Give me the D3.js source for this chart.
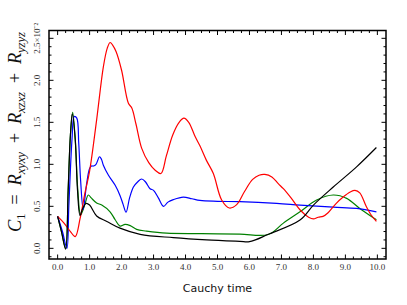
<!DOCTYPE html>
<html><head><meta charset="utf-8">
<script src="https://cdn.jsdelivr.net/npm/d3@7"></script>
<style>body{margin:0;background:#fff;} svg{display:block;}</style>
</head><body><svg id="c" width="407" height="305"></svg>
<script>
// ---- data (values in units of 1e-2) ----
const xTickLabels = ["0.0","1.0","2.0","3.0","4.0","5.0","6.0","7.0","8.0","9.0","10.0"];
const yTickLabels = ["0.0","0.5","1.0","1.5","2.0","2.5×10⁻²"];
const xTicks = [0,1,2,3,4,5,6,7,8,9,10];
const yTicks = [0,0.5,1,1.5,2,2.5];

const redT = [0,0.2,0.4,0.55,0.7,0.85,1.0,1.22,1.43,1.55,1.64,1.72,1.83,2.0,2.21,2.32,2.45,2.63,2.85,3.05,3.23,3.4,3.6,3.8,3.95,4.1,4.3,4.45,4.65,4.87,5.13,5.37,5.6,5.85,6.1,6.3,6.48,6.7,6.9,7.06,7.3,7.6,7.85,8.0,8.15,8.3,8.45,8.7,8.93,9.15,9.3,9.45,9.65,9.8,9.97];
const redV = [0.38,0.3,0.2,0.14,0.35,0.65,0.92,1.53,2.16,2.38,2.45,2.42,2.34,2.12,1.73,1.67,1.48,1.19,1.02,0.93,0.89,1.1,1.35,1.5,1.55,1.5,1.33,1.22,1.05,0.89,0.575,0.48,0.52,0.68,0.82,0.87,0.88,0.85,0.77,0.71,0.6,0.45,0.37,0.35,0.37,0.38,0.42,0.53,0.61,0.67,0.69,0.66,0.5,0.4,0.32];

const blueT = [0,0.15,0.29,0.35,0.45,0.52,0.6,0.66,0.72,0.8,0.9,1.0,1.06,1.12,1.2,1.31,1.37,1.43,1.59,1.8,1.95,2.05,2.14,2.25,2.37,2.5,2.63,2.75,2.89,3.0,3.15,3.31,3.45,3.62,3.93,4.2,4.45,5.0,5.7,6.85,7.58,8.62,9.35,9.97];
const blueV = [0.38,0.2,0.0,0.5,1.3,1.57,1.55,1.25,0.8,0.46,0.75,0.95,0.98,0.98,1.0,1.09,1.06,0.99,0.87,0.75,0.63,0.52,0.43,0.6,0.73,0.79,0.825,0.79,0.71,0.69,0.6,0.5,0.55,0.58,0.61,0.59,0.57,0.56,0.555,0.535,0.515,0.49,0.475,0.435];

const greenT = [0,0.12,0.25,0.33,0.4,0.47,0.55,0.63,0.72,0.85,0.96,1.05,1.22,1.38,1.64,1.8,1.95,2.11,2.27,2.47,2.78,3.41,4.5,5.7,6.59,7.06,7.58,8.1,8.62,9.04,9.45,9.97];
const greenV = [0.38,0.2,0.0,0.7,1.35,1.62,1.3,0.7,0.4,0.52,0.635,0.6,0.54,0.515,0.435,0.34,0.265,0.285,0.27,0.225,0.205,0.18,0.175,0.17,0.165,0.3,0.435,0.575,0.635,0.595,0.475,0.34];

const blackT = [0,0.12,0.25,0.33,0.4,0.46,0.55,0.62,0.7,0.78,0.89,1.0,1.22,1.54,1.95,2.58,3.62,4.66,5.7,6.0,6.59,7.58,8.0,8.62,9.35,9.97];
const blackV = [0.38,0.2,-0.01,0.7,1.35,1.6,1.3,0.7,0.39,0.47,0.535,0.515,0.385,0.32,0.24,0.167,0.127,0.1,0.083,0.079,0.167,0.337,0.515,0.73,0.97,1.2];

const series = [
  {t: greenT, v: greenV, color: "#008000"},
  {t: blueT, v: blueV, color: "#0000ff"},
  {t: redT, v: redV, color: "#ff0000"},
  {t: blackT, v: blackV, color: "#000000"}
];

// ---- layout ----
const svg = d3.select("#c");
const L = 49, R = 386, T = 30.5, B = 259;
const x = d3.scaleLinear().domain([-0.27, 10.27]).range([L, R]);
const y = d3.scaleLinear().domain([-0.127, 2.593]).range([B, T]);

const line = d3.line().x(d => x(d[0])).y(d => y(d[1])).curve(d3.curveCatmullRom.alpha(0.5));
svg.append("clipPath").attr("id","clp").append("rect").attr("x",L).attr("y",T).attr("width",R-L).attr("height",B-T);
const g = svg.append("g").attr("clip-path","url(#clp)");
series.forEach(s => {
  g.append("path").datum(s.t.map((t,i)=>[t, s.v[i]]))
    .attr("d", line).attr("fill","none").attr("stroke", s.color).attr("stroke-width",1.2);
});

// ticks (inward on all sides)
const xMinor = d3.range(0, 10.01, 0.25).filter(v => Math.abs(v - Math.round(v)) > 1e-6);
const yMinor = d3.range(-0.1, 2.59, 0.1).filter(v => Math.abs(v*2 - Math.round(v*2)) > 1e-6);
const tk = svg.append("g").attr("stroke","#000").attr("stroke-width",1);
xTicks.forEach(v => {
  tk.append("line").attr("x1",x(v)).attr("x2",x(v)).attr("y1",B).attr("y2",B-4.5);
  tk.append("line").attr("x1",x(v)).attr("x2",x(v)).attr("y1",T).attr("y2",T+4.5);
});
xMinor.forEach(v => {
  tk.append("line").attr("x1",x(v)).attr("x2",x(v)).attr("y1",B).attr("y2",B-2.5);
  tk.append("line").attr("x1",x(v)).attr("x2",x(v)).attr("y1",T).attr("y2",T+2.5);
});
yTicks.forEach(v => {
  tk.append("line").attr("y1",y(v)).attr("y2",y(v)).attr("x1",L).attr("x2",L+4.5);
  tk.append("line").attr("y1",y(v)).attr("y2",y(v)).attr("x1",R).attr("x2",R-4.5);
});
yMinor.forEach(v => {
  tk.append("line").attr("y1",y(v)).attr("y2",y(v)).attr("x1",L).attr("x2",L+2.5);
  tk.append("line").attr("y1",y(v)).attr("y2",y(v)).attr("x1",R).attr("x2",R-2.5);
});

// frame
svg.append("rect").attr("x",L).attr("y",T).attr("width",R-L).attr("height",B-T)
  .attr("fill","none").attr("stroke","#000").attr("stroke-width",1.5);

// tick labels
const tf = "'Liberation Serif', serif";
xTicks.forEach((v,i) => {
  svg.append("text").attr("x",x(v)).attr("y",B+11).attr("text-anchor","middle")
    .attr("font-family",tf).attr("font-size",9).attr("fill","#333").text(xTickLabels[i]);
});
yTicks.forEach((v,i) => {
  svg.append("text").attr("transform",`translate(${L-9},${y(v)}) rotate(-90)`)
    .attr("text-anchor","middle").attr("font-family",tf).attr("font-size",9).attr("fill","#333")
    .text(yTickLabels[i]);
});

// axis labels
svg.append("text").attr("x",(L+R)/2).attr("y",292).attr("text-anchor","middle")
  .attr("font-family","'DejaVu Sans', sans-serif").attr("font-size",11).attr("fill","#111").text("Cauchy time");

const yl = svg.append("text").attr("transform",`translate(21,132) rotate(-90)`)
  .attr("text-anchor","middle").attr("font-family","'Liberation Serif', serif").attr("font-size",18.5)
  .attr("fill","#111").attr("textLength",200).attr("lengthAdjust","spacing");
const parts = [["C","1"],["\u2002=\u2002",null],["R","xyxy"],["\u2002+\u2002",null],["R","xzxz"],["\u2002+\u2002",null],["R","yzyz"]];
parts.forEach(p => {
  if (p[1] === null) { yl.append("tspan").attr("font-style","normal").text(p[0]); }
  else {
    yl.append("tspan").attr("font-style","italic").text(p[0]);
    yl.append("tspan").attr("font-style", /\d/.test(p[1]) ? "normal" : "italic")
      .attr("font-size",13).attr("baseline-shift","-30%").text(p[1]);
  }
});
</script></body></html>
